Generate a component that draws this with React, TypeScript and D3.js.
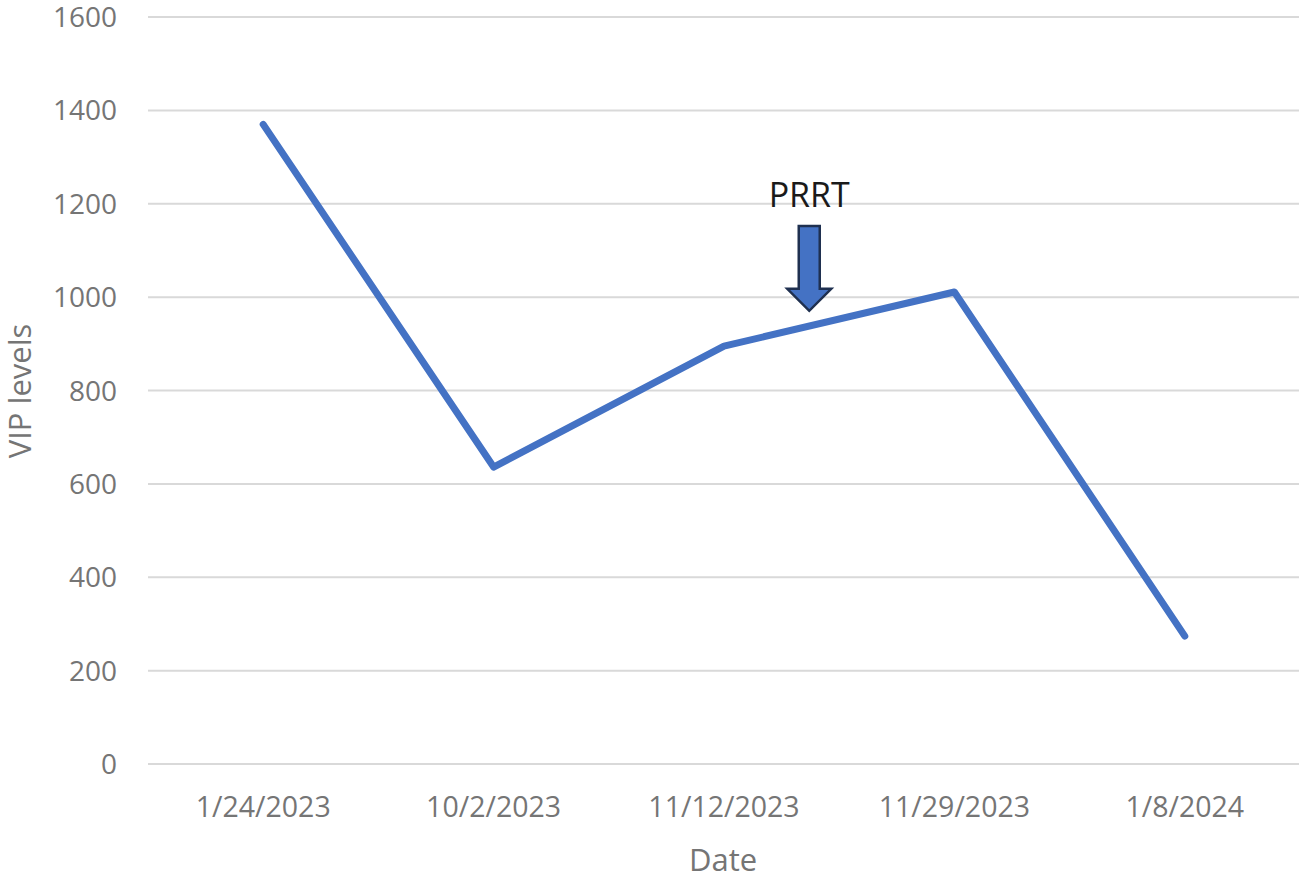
import React from "react";
import * as d3 from "d3";

const categories = ["1/24/2023", "10/2/2023", "11/12/2023", "11/29/2023", "1/8/2024"];
const values = [1370, 636, 895, 1011, 274];
const yTicks = [0, 200, 400, 600, 800, 1000, 1200, 1400, 1600];
const annotationLabel = "PRRT";
// annotation sits between 11/12/2023 and 11/29/2023
const annotationAfter = "11/12/2023";
const annotationFraction = 0.37;
const annotationTop = 1150;
const annotationTip = 975;

const W = 1299;
const H = 884;
const left = 148;
const right = 1300;
const top = 17;
const bottom = 764;

export default function App() {
  const x = d3.scaleBand<string>().domain(categories).range([left, right]).padding(0);
  const y = d3.scaleLinear().domain([0, 1600]).range([bottom, top]);
  const cx = (c: string) => (x(c) as number) + x.bandwidth() / 2;
  const line = d3
    .line<number>()
    .x((_, i) => cx(categories[i]))
    .y((d) => y(d));

  const ax = cx(annotationAfter) + annotationFraction * x.bandwidth();
  const shaftTop = y(annotationTop) - 1;
  const tip = y(annotationTip) + 2;
  const headStart = tip - 22;
  const sw = 10.5;
  const hw = 22;
  const arrowPath = `M${ax - sw},${shaftTop} L${ax + sw},${shaftTop} L${ax + sw},${headStart} L${ax + hw},${headStart} L${ax},${tip} L${ax - hw},${headStart} L${ax - sw},${headStart} Z`;

  const font = "'Open Sans', 'Noto Sans', sans-serif";
  return (
    <svg width={W} height={H} style={{ position: "absolute", left: 0, top: 0, background: "#fff" }} fontFamily={font}>
      {yTicks.map((t) => (
        <g key={t}>
          <line x1={left} x2={W} y1={y(t)} y2={y(t)} stroke="#d9d9d9" strokeWidth={2} />
          <text x={117} y={y(t)} dy="0.36em" textAnchor="end" fontSize={28} fill="#757575">
            {t}
          </text>
        </g>
      ))}
      {categories.map((c) => (
        <text key={c} x={cx(c)} y={817} textAnchor="middle" fontSize={28.5} fill="#757575">
          {c}
        </text>
      ))}
      <text x={723} y={871} textAnchor="middle" fontSize={31} fill="#757575">
        Date
      </text>
      <text
        transform={`translate(31,${391}) rotate(-90)`}
        textAnchor="middle"
        fontSize={31}
        fill="#757575"
      >
        VIP levels
      </text>
      <path
        d={line(values) as string}
        fill="none"
        stroke="#4472C4"
        strokeWidth={7}
        strokeLinecap="round"
        strokeLinejoin="round"
      />
      <text x={ax} y={207} textAnchor="middle" fontSize={34} fill="#1a1a1a">
        {annotationLabel}
      </text>
      <path d={arrowPath} fill="#4472C4" stroke="#1f3050" strokeWidth={2.5} strokeLinejoin="miter" />
    </svg>
  );
}
